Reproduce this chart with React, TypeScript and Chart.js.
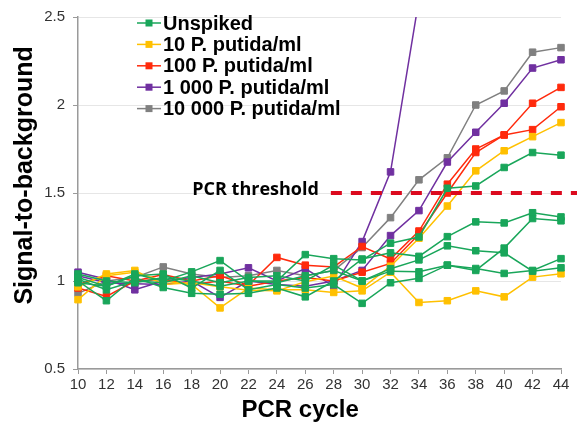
import React, { useEffect, useRef } from 'react';
import { Chart, registerables } from 'chart.js';
Chart.register(...registerables);

const CYCLES = [10, 12, 14, 16, 18, 20, 22, 24, 26, 28, 30, 32, 34, 36, 38, 40, 42, 44];
const LEGEND_LABELS = ['Unspiked', '10 P. putida/ml', '100 P. putida/ml', '1 000 P. putida/ml', '10 000 P. putida/ml'];
const X_TITLE = 'PCR cycle';
const Y_TITLE = 'Signal-to-background';
const THRESHOLD = 1.5;
const THRESHOLD_LABEL = 'PCR threshold';
const THRESHOLD_START = 27.8;

const GRAY_1 = [0.93, 1.0, 1.02, 1.08, 1.04, 1.02, 1.03, 1.06, 1.03, 1.06, 1.19, 1.36, 1.575, 1.70, 2.00, 2.08, 2.30, 2.326];
const PURPLE_1 = [1.05, 1.01, 0.95, 1.0, 1.02, 1.04, 1.075, 1.0, 1.07, 0.97, 1.224, 1.62, 2.6, null, null, null, null, null];
const PURPLE_2 = [1.03, 0.99, 0.985, 0.98, 1.0, 0.907, 1.0, 0.98, 0.97, 1.0, 1.06, 1.258, 1.40, 1.676, 1.845, 2.01, 2.21, 2.257];
const RED_1 = [0.98, 1.03, 1.0, 1.037, 1.0, 1.03, 0.976, 1.134, 1.09, 1.08, 1.196, 1.125, 1.284, 1.55, 1.75, 1.83, 2.01, 2.10];
const RED_2 = [0.96, 0.912, 1.0, 1.01, 0.98, 1.0, 0.97, 1.0, 1.02, 1.0, 1.05, 1.10, 1.265, 1.50, 1.73, 1.83, 1.86, 1.99];
const YELLOW_1 = [0.967, 1.04, 1.06, 0.98, 0.99, 0.967, 0.948, 0.944, 0.996, 1.028, 0.96, 1.084, 1.243, 1.426, 1.626, 1.74, 1.82, 1.90];
const YELLOW_2 = [0.894, 1.03, 1.05, 1.0, 0.98, 0.847, 0.96, 0.95, 0.95, 0.935, 0.944, 1.05, 0.878, 0.888, 0.944, 0.91, 1.022, 1.041];
const GREEN_1 = [1.02, 0.97, 1.04, 1.0, 1.052, 1.116, 1.0, 1.0, 1.15, 1.127, 1.12, 1.215, 1.25, 1.527, 1.54, 1.645, 1.73, 1.715];
const GREEN_2 = [1.0, 0.888, 1.02, 0.963, 0.93, 0.925, 0.93, 0.96, 0.91, 1.0, 1.125, 1.16, 1.14, 1.252, 1.336, 1.33, 1.388, 1.364];
const GREEN_3 = [1.01, 0.95, 1.0, 0.99, 1.03, 0.99, 1.02, 1.03, 1.0, 1.09, 1.0, 1.07, 1.12, 1.20, 1.172, 1.16, 1.056, 1.075];
const GREEN_4 = [0.99, 0.97, 1.03, 1.04, 0.96, 1.06, 0.95, 0.98, 0.96, 0.98, 0.873, 0.99, 1.015, 1.09, 1.06, 1.187, 1.355, 1.342];
const GREEN_5 = [1.04, 1.0, 0.99, 1.02, 1.0, 0.97, 1.0, 0.99, 1.03, 1.06, 1.0, 1.056, 1.052, 1.09, 1.071, 1.043, 1.06, 1.127];

const GREEN = '#19a65a';
const YELLOW = '#ffc000';
const RED = '#ff2a0c';
const PURPLE = '#7030a0';
const GRAY = '#808080';
const GROUP_COLORS = [GREEN, YELLOW, RED, PURPLE, GRAY];

const SERIES: { data: (number | null)[]; color: string }[] = [
  { data: GREEN_1, color: GREEN },
  { data: GREEN_2, color: GREEN },
  { data: GREEN_3, color: GREEN },
  { data: GREEN_4, color: GREEN },
  { data: GREEN_5, color: GREEN },
  { data: YELLOW_1, color: YELLOW },
  { data: YELLOW_2, color: YELLOW },
  { data: RED_1, color: RED },
  { data: RED_2, color: RED },
  { data: PURPLE_1, color: PURPLE },
  { data: PURPLE_2, color: PURPLE },
  { data: GRAY_1, color: GRAY },
];

const SANS = '"Liberation Sans", Arial, sans-serif';

const overlayPlugin = {
  id: 'overlay',
  afterDatasetsDraw(chart: any) {
    const { ctx, scales } = chart;
    const yPix = scales.y.getPixelForValue(THRESHOLD);
    const xStart = scales.x.getPixelForValue(THRESHOLD_START);
    ctx.save();
    ctx.strokeStyle = '#dc0a1e';
    ctx.lineWidth = 4;
    ctx.setLineDash([11, 9]);
    ctx.beginPath();
    ctx.moveTo(xStart, yPix);
    ctx.lineTo(chart.width, yPix);
    ctx.stroke();
    ctx.setLineDash([]);
    ctx.fillStyle = '#000';
    ctx.font = 'bold 18px "Open Sans"';
    ctx.textAlign = 'right';
    ctx.textBaseline = 'alphabetic';
    ctx.fillText(THRESHOLD_LABEL, xStart - 12, yPix + 2);
    ctx.restore();
  },
  afterDraw(chart: any) {
    const { ctx, chartArea } = chart;
    ctx.save();
    const x0 = 137;
    const y0 = 23;
    const step = 21.4;
    LEGEND_LABELS.forEach((label, i) => {
      const y = y0 + i * step;
      const c = GROUP_COLORS[i];
      ctx.strokeStyle = c;
      ctx.lineWidth = 1.5;
      ctx.beginPath();
      ctx.moveTo(x0, y);
      ctx.lineTo(x0 + 24, y);
      ctx.stroke();
      ctx.fillStyle = c;
      ctx.fillRect(x0 + 12 - 3.5, y - 3.5, 7, 7);
      ctx.fillStyle = '#000';
      ctx.font = `bold 20px ${SANS}`;
      ctx.textAlign = 'left';
      ctx.textBaseline = 'middle';
      ctx.fillText(label, x0 + 26, y + 1);
    });
    // axis titles
    ctx.fillStyle = '#000';
    ctx.font = `bold 24px ${SANS}`;
    ctx.textAlign = 'center';
    ctx.textBaseline = 'middle';
    ctx.fillText(X_TITLE, chartArea.left + (chartArea.right - chartArea.left) * 0.46, 410);
    ctx.save();
    ctx.translate(25, chartArea.top + (chartArea.bottom - chartArea.top) * 0.45);
    ctx.rotate(-Math.PI / 2);
    ctx.font = `bold 25px ${SANS}`;
    ctx.fillText(Y_TITLE, 0, 0);
    ctx.restore();
    ctx.restore();
  },
};

export default function App() {
  const ref = useRef<HTMLCanvasElement | null>(null);
  useEffect(() => {
    if (!ref.current) return;
    const chart = new Chart(ref.current, {
      type: 'line',
      data: {
        datasets: SERIES.map((s) => ({
          data: CYCLES.map((c, i) => ({ x: c, y: s.data[i] as any })),
          borderColor: s.color,
          backgroundColor: s.color,
          borderWidth: 1.5,
          pointStyle: 'rect',
          pointRadius: 4.6,
          pointBorderWidth: 1,
          pointBorderColor: s.color,
          pointBackgroundColor: s.color,
          tension: 0,
          spanGaps: false,
          clip: { left: 10, right: 10, top: 0, bottom: 10 } as any,
        })),
      },
      options: {
        responsive: false,
        animation: false,
        devicePixelRatio: 1,
        layout: { padding: { left: 0, right: 16, top: 12, bottom: 0 } },
        plugins: { legend: { display: false }, tooltip: { enabled: false } },
        scales: {
          x: {
            type: 'linear',
            min: 10,
            max: 44,
            afterFit: (scale: any) => { scale.height = 60; },
            ticks: {
              stepSize: 2,
              color: '#333',
              padding: 2,
              font: { family: SANS, size: 15 },
            },
            grid: { drawOnChartArea: false, drawTicks: true, tickLength: 5, tickColor: '#9a9a9a' },
            border: { display: true, color: '#9a9a9a', width: 1.5 },
          },
          y: {
            type: 'linear',
            min: 0.5,
            max: 2.5,
            afterFit: (scale: any) => { scale.width = 78; },
            ticks: {
              stepSize: 0.5,
              color: '#333',
              padding: 8,
              font: { family: SANS, size: 15 },
              callback: (v: any) => String(Number(v)),
            },
            grid: { color: '#e6e6e6', drawTicks: true, tickLength: 5, tickColor: '#9a9a9a' },
            border: { display: true, color: '#9a9a9a', width: 1.5 },
          },
        },
      },
      plugins: [overlayPlugin],
    });
    return () => chart.destroy();
  }, []);
  return (
    <div style={{ position: 'fixed', left: 0, top: 0, width: 577, height: 429, background: '#fff' }}>
      <canvas ref={ref} width={577} height={429} style={{ display: 'block' }} />
    </div>
  );
}
